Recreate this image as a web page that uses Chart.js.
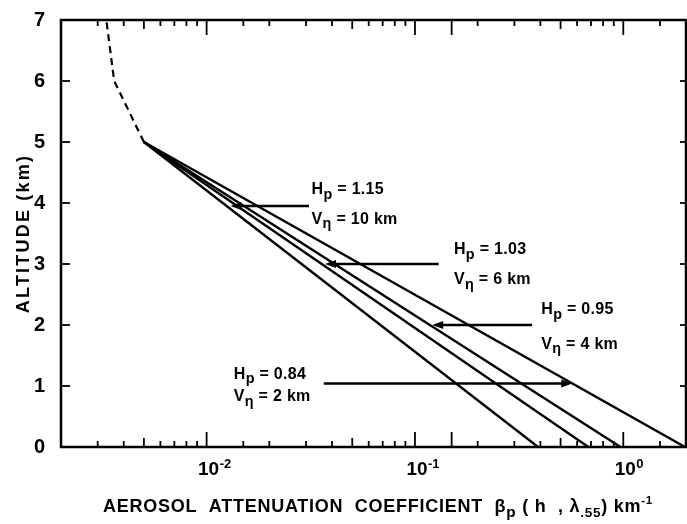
<!DOCTYPE html>
<html>
<head>
<meta charset="utf-8">
<script src="https://cdn.jsdelivr.net/npm/chart.js@4.4.0/dist/chart.umd.min.js"></script>
<style>
  html, body { margin: 0; padding: 0; background: #fff; }
  #wrap { width: 687px; height: 524px; }
</style>
</head>
<body>
<div id="wrap"><canvas id="chart"></canvas></div>
<script>
// altitude (km) at the two ends of each profile
const profileAltitudes = [5, 0];
// attenuation coefficient (km^-1) at 5 km and at the ground
const profileVn10 = [0.005, 0.39];
const profileVn6 = [0.005, 0.68];
const profileVn4 = [0.005, 0.97];
const profileVn2 = [0.005, 1.98];
// common upper part, dashed
const upperAltitudes = [5, 6, 7];
const upperCoeff = [0.005, 0.0036, 0.0033];

// x tick labels (decades)
const xTickValues = [0.01, 0.1, 1];
const xTickBase = '10';
const xTickExps = ['-2', '-1', '0'];

// annotations: arrow altitude, tail and head (km^-1), label values
const arrowAlt = [3.95, 3.0, 2.0, 1.04];
const arrowTail = [0.031, 0.13, 0.365, 0.0365];
const arrowHead = [0.013, 0.037, 0.121, 0.569];
const labelHp = ['1.15', '1.03', '0.95', '0.84'];
const labelVn = ['10 km', '6 km', '4 km', '2 km'];
// label anchor (coefficient, altitude of the H line, altitude of the V line)
const labelX = [0.0319, 0.154, 0.404, 0.0135];
const labelHAlt = [4.14, 3.16, 2.18, 1.12];
const labelVAlt = [3.66, 2.67, 1.61, 0.75];

const FONT = '"Liberation Sans", Arial, sans-serif';

function toPoints(xs, ys) {
  return xs.map((v, i) => ({ x: v, y: ys[i] }));
}

function solid(xs) {
  return {
    data: toPoints(xs, profileAltitudes),
    borderColor: '#000',
    borderWidth: 2.4,
    pointRadius: 0,
    showLine: true
  };
}

/**
 * Draw a run of text with sub / superscript pieces
 */
function drawRich(ctx, segs, x, y, size, spacing) {
  ctx.letterSpacing = spacing + 'px';
  segs.forEach(s => {
    const small = s.sub || s.sup;
    const fs = small ? size * (s.scale || 0.72) : size;
    ctx.font = 'bold ' + fs + 'px ' + FONT;
    const dy = s.sub ? size * 0.28 : (s.sup ? -size * 0.42 : 0);
    ctx.fillText(s.t, x, y + dy);
    x += ctx.measureText(s.t).width;
  });
}

const frameAndLabels = {
  id: 'frameAndLabels',
  afterDatasetsDraw(chart) {
    const { ctx, chartArea: a, scales: { x, y } } = chart;
    ctx.save();
    ctx.strokeStyle = '#000';
    ctx.fillStyle = '#000';

    // frame
    ctx.lineWidth = 2.5;
    ctx.strokeRect(a.left, a.top, a.right - a.left, a.bottom - a.top);

    const seg = (x1, y1, x2, y2) => {
      ctx.beginPath();
      ctx.moveTo(x1, y1);
      ctx.lineTo(x2, y2);
      ctx.stroke();
    };

    // x tick marks, inward on bottom and top
    ctx.lineWidth = 1.8;
    x.ticks.forEach(t => {
      const v = t.value;
      const m = Math.round(v / Math.pow(10, Math.floor(Math.log10(v) + 1e-9)));
      const len = m === 1 ? 15 : (m === 5 ? 9 : 6);
      const px = x.getPixelForValue(v);
      if (px < a.left + 2 || px > a.right - 2) return;
      seg(px, a.bottom, px, a.bottom - len);
      seg(px, a.top, px, a.top + len);
    });

    // y tick marks
    y.ticks.forEach(t => {
      const py = y.getPixelForValue(t.value);
      if (py < a.top + 2 || py > a.bottom - 2) return;
      seg(a.left, py, a.left + 9, py);
      seg(a.right, py, a.right - 6, py);
    });

    // x tick labels
    ctx.textBaseline = 'alphabetic';
    xTickValues.forEach((v, i) => {
      const px = x.getPixelForValue(v);
      ctx.font = 'bold 19px ' + FONT;
      ctx.letterSpacing = '0px';
      const w = ctx.measureText(xTickBase).width;
      ctx.textAlign = 'left';
      const left = px + 2 - w / 2;
      ctx.fillText(xTickBase, left, 475);
      ctx.font = 'bold 13px ' + FONT;
      ctx.fillText(xTickExps[i], left + w + 0.5, 468);
    });

    // x axis title
    ctx.textAlign = 'left';
    drawRich(ctx, [
      { t: 'AEROSOL  ATTENUATION  COEFFICIENT  ' },
      { t: 'β' },
      { t: 'p', sub: true, scale: 0.85 },
      { t: ' ( h  , λ' },
      { t: '.55', sub: true, scale: 0.75 },
      { t: ') km' },
      { t: '-1', sup: true, scale: 0.65 }
    ], 103, 512, 18, 0.75);

    // y axis title
    ctx.save();
    ctx.translate(24, (a.top + a.bottom) / 2);
    ctx.rotate(-Math.PI / 2);
    ctx.textAlign = 'center';
    ctx.font = 'bold 18px ' + FONT;
    ctx.letterSpacing = '2.2px';
    ctx.textBaseline = 'middle';
    ctx.fillText('ALTITUDE (km)', 0, 0);
    ctx.restore();

    // arrows
    ctx.lineWidth = 2.4;
    arrowAlt.forEach((alt, i) => {
      const py = y.getPixelForValue(alt);
      const x0 = x.getPixelForValue(arrowTail[i]);
      const x1 = x.getPixelForValue(arrowHead[i]);
      const dir = Math.sign(x1 - x0);
      seg(x0, py, x1 - dir * 6, py);
      ctx.beginPath();
      ctx.moveTo(x1, py);
      ctx.lineTo(x1 - dir * 11, py - 4);
      ctx.lineTo(x1 - dir * 11, py + 4);
      ctx.closePath();
      ctx.fill();
    });

    // labels
    ctx.textAlign = 'left';
    labelHp.forEach((hp, i) => {
      const px = x.getPixelForValue(labelX[i]);
      drawRich(ctx, [
        { t: 'H' },
        { t: 'p', sub: true, scale: 0.9 },
        { t: ' = ' + hp }
      ], px, y.getPixelForValue(labelHAlt[i]), 16, 0.3);
      drawRich(ctx, [
        { t: 'V' },
        { t: 'η', sub: true, scale: 0.9 },
        { t: ' = ' + labelVn[i] }
      ], px, y.getPixelForValue(labelVAlt[i]), 16, 0.3);
    });

    ctx.restore();
  }
};

const ctx = document.getElementById('chart');

new Chart(ctx, {
  type: 'scatter',
  data: {
    datasets: [
      {
        data: toPoints(upperCoeff, upperAltitudes),
        borderColor: '#000',
        borderWidth: 2.2,
        borderDash: [7, 5],
        pointRadius: 0,
        showLine: true
      },
      solid(profileVn10),
      solid(profileVn6),
      solid(profileVn4),
      solid(profileVn2)
    ]
  },
  options: {
    responsive: true,
    maintainAspectRatio: false,
    animation: false,
    layout: { padding: { top: 16, right: 1, left: 0, bottom: 0 } },
    plugins: {
      legend: { display: false },
      tooltip: { enabled: false }
    },
    scales: {
      x: {
        type: 'logarithmic',
        min: 0.002,
        max: 2,
        grid: { display: false },
        border: { display: false },
        ticks: { display: false },
        afterFit: scale => { scale.height = 77; }
      },
      y: {
        min: 0,
        max: 7,
        grid: { display: false },
        border: { display: false },
        ticks: {
          stepSize: 1,
          color: '#000',
          padding: 8,
          font: { family: FONT, size: 20, weight: 'bold' }
        },
        afterFit: scale => { scale.width = 61; }
      }
    }
  },
  plugins: [frameAndLabels]
});
</script>
</body>
</html>
